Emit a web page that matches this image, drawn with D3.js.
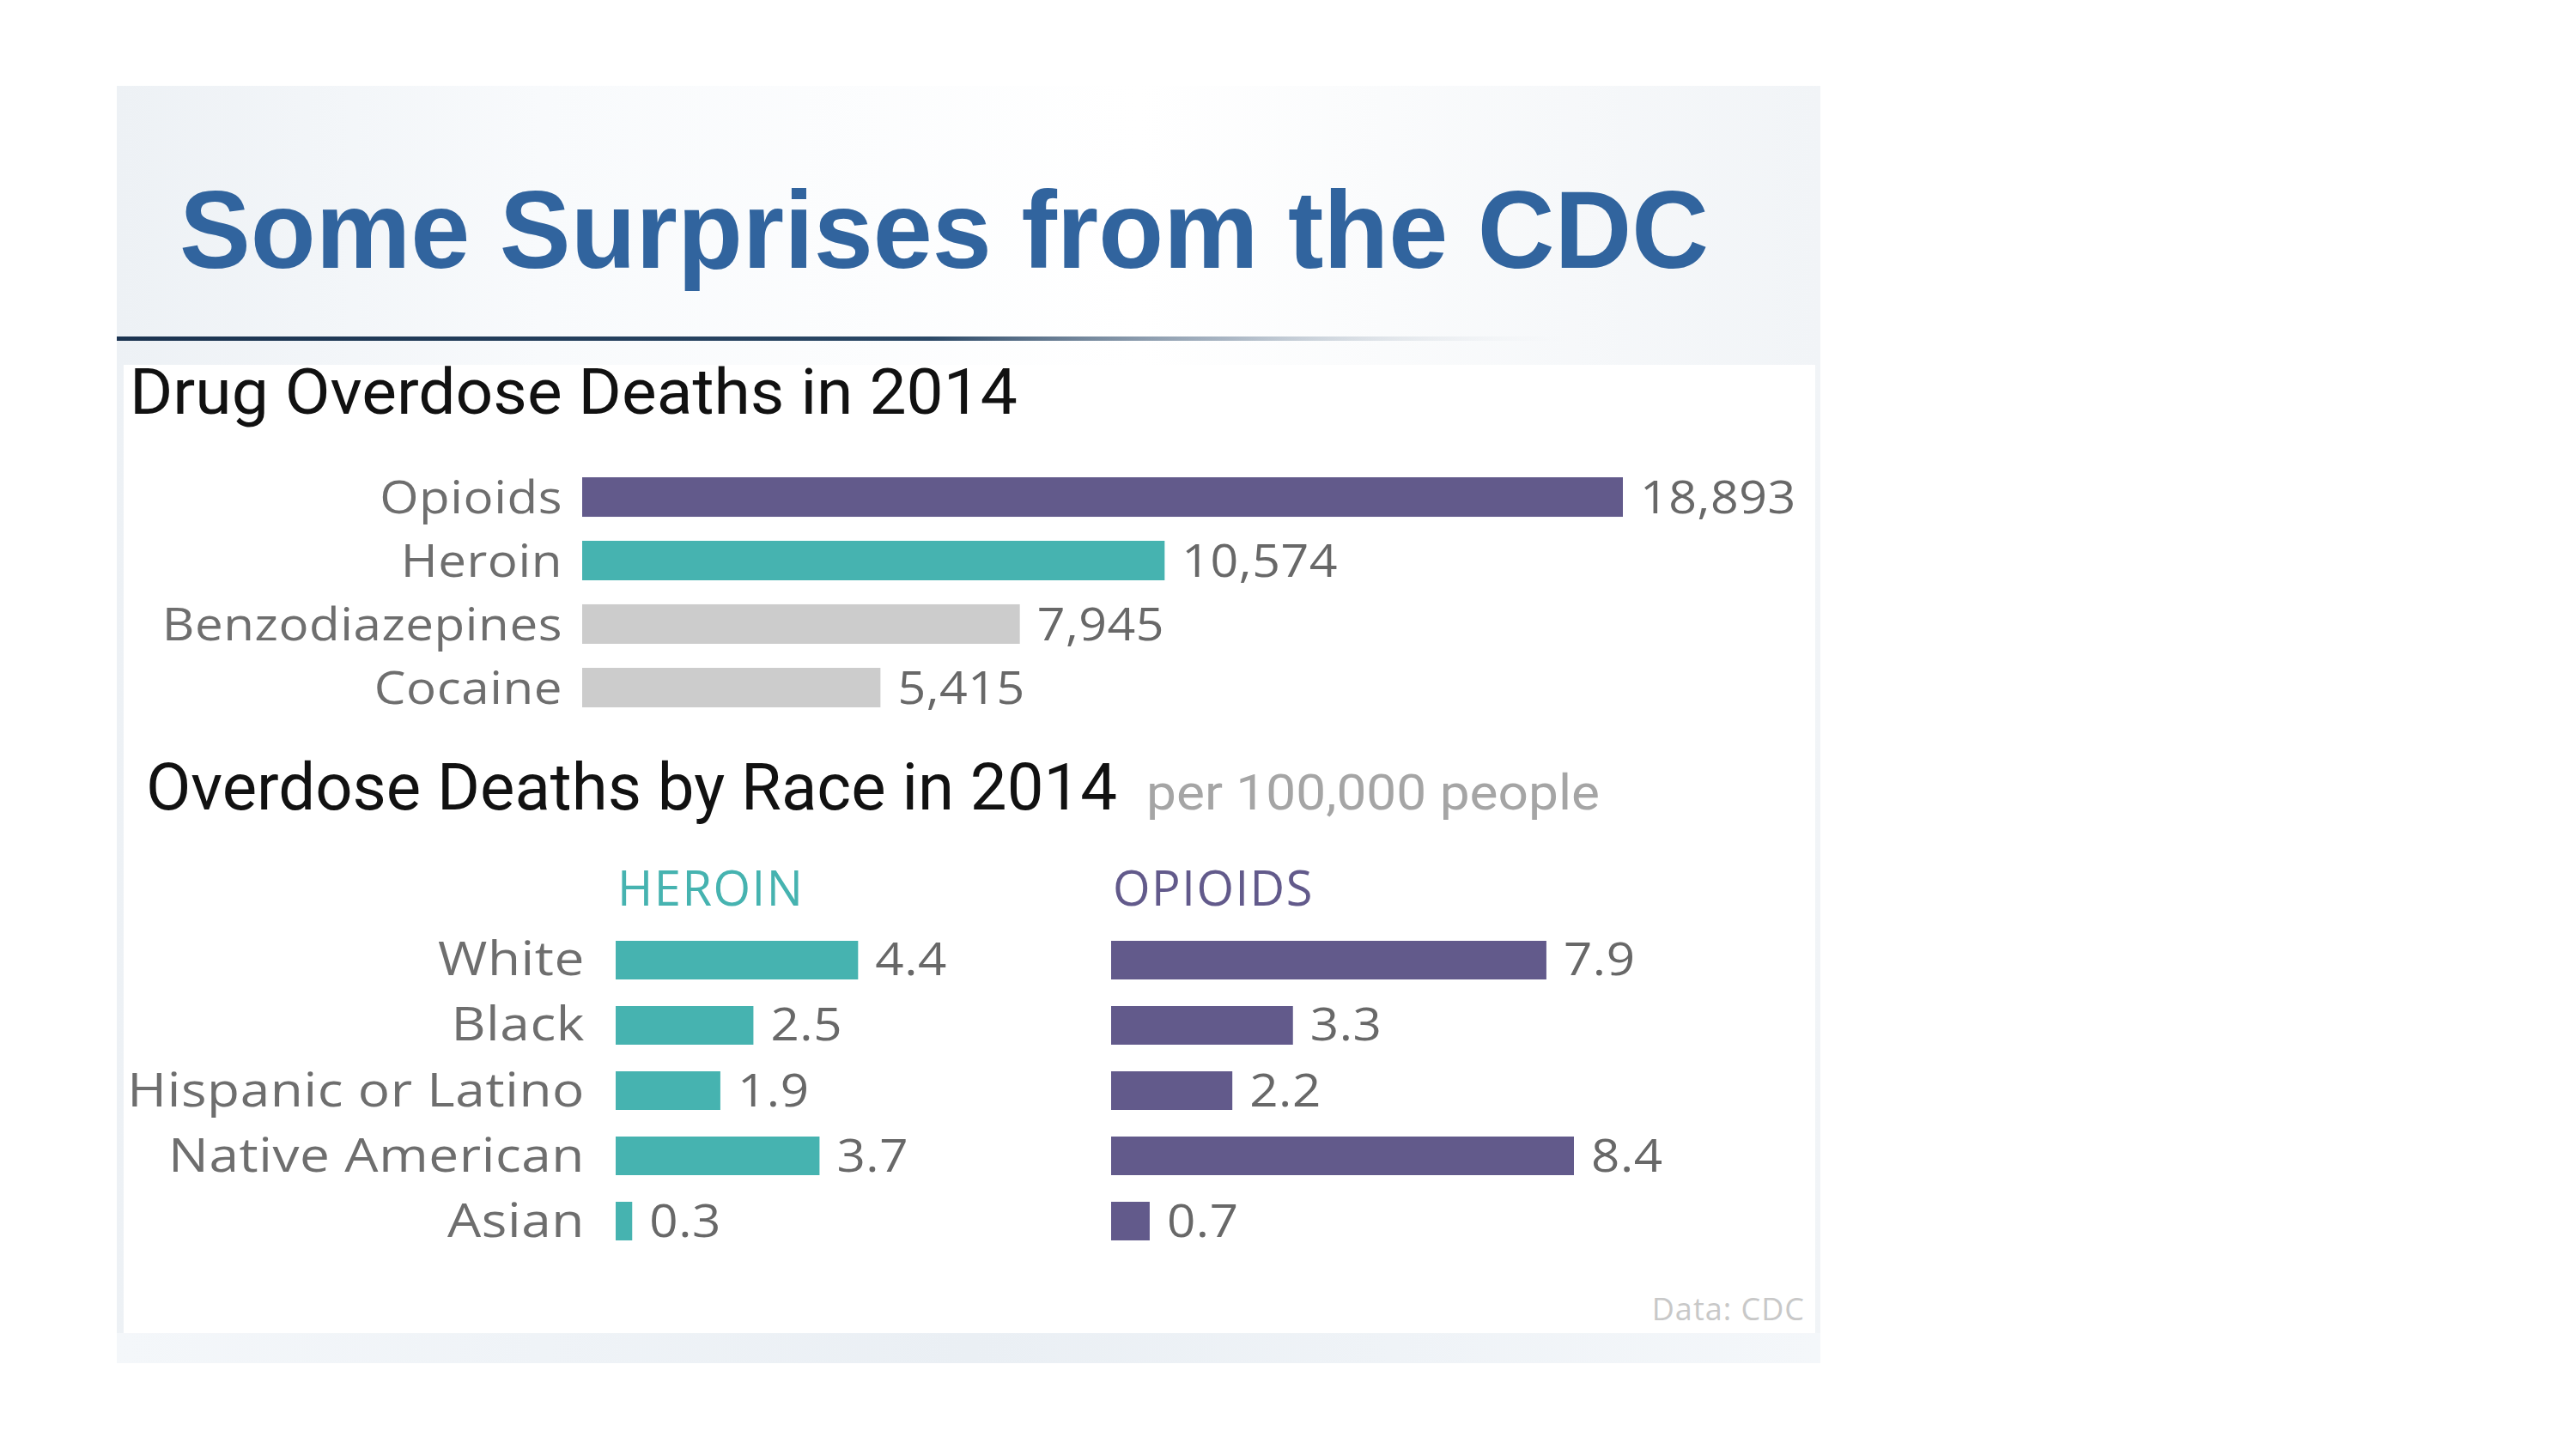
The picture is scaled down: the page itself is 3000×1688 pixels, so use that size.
<!DOCTYPE html>
<html>
<head>
<meta charset="utf-8">
<script src="https://cdn.jsdelivr.net/npm/d3@7.9.0/dist/d3.min.js"></script>
<style>
    html, body { margin: 0; padding: 0; background: #ffffff; }
    svg { display: block; }
    .label { font-family: 'Open Sans', sans-serif; fill: #6e6e6e; }
    .value { font-family: 'Open Sans', sans-serif; fill: #686868; }
</style>
</head>
<body>
<div id="chart"></div>
<script>
// drug overdose deaths, 2014
const drugs = ['Opioids', 'Heroin', 'Benzodiazepines', 'Cocaine'];
const drugDeaths = [18893, 10574, 7945, 5415];

// deaths per 100,000 people by race, 2014
const races = ['White', 'Black', 'Hispanic or Latino', 'Native American', 'Asian'];
const heroinRate = [4.4, 2.5, 1.9, 3.7, 0.3];
const opioidRate = [7.9, 3.3, 2.2, 8.4, 0.7];

const width = 3000;
const height = 1688;

const purple = '#625a8b';
const teal = '#46b3b0';
const grey = '#cccccc';
const drugColor = { Opioids: purple, Heroin: teal };

const svg = d3.select('#chart')
    .append('svg')
    .attr('width', width)
    .attr('height', height);

const defs = svg.append('defs');

function addGradient(id, stops, x2 = '100%', y2 = '0%') {
    const g = defs.append('linearGradient')
        .attr('id', id)
        .attr('x1', '0%').attr('y1', '0%')
        .attr('x2', x2).attr('y2', y2);
    stops.forEach(([offset, color, opacity]) => {
        g.append('stop')
            .attr('offset', offset)
            .attr('stop-color', color)
            .attr('stop-opacity', opacity);
    });
}

// stretched text, the source uses a wide face
function stretch(sel, x, y, sx) {
    return sel.attr('transform', (d, i) => {
        const tx = typeof x === 'function' ? x(d, i) : x;
        const ty = typeof y === 'function' ? y(d, i) : y;
        return `translate(${tx}, ${ty}) scale(${sx}, 1)`;
    });
}

function renderSlide() {
    addGradient('header', [
        ['0%', '#edf1f5', 1],
        ['25%', '#f8fafc', 1],
        ['60%', '#ffffff', 1],
        ['100%', '#f1f4f7', 1],
    ]);
    addGradient('rule', [
        ['0%', '#1b3350', 1],
        ['55%', '#2b4866', 1],
        ['75%', '#6f849b', 0.6],
        ['100%', '#ffffff', 0],
    ]);
    addGradient('strip', [
        ['0%', '#f4f7fa', 1],
        ['50%', '#eaeff4', 1],
        ['100%', '#f4f7fa', 1],
    ]);

    // slide backdrop
    svg.append('rect')
        .attr('x', 136).attr('y', 100)
        .attr('width', 1984).attr('height', 1488)
        .attr('fill', 'url(#header)');

    // white content panel
    svg.append('rect')
        .attr('x', 144).attr('y', 425)
        .attr('width', 1970).attr('height', 1128)
        .attr('fill', '#ffffff');

    // bottom strip
    svg.append('rect')
        .attr('x', 136).attr('y', 1553)
        .attr('width', 1984).attr('height', 35)
        .attr('fill', 'url(#strip)');

    // rule under the title
    svg.append('rect')
        .attr('x', 136).attr('y', 392)
        .attr('width', 1720).attr('height', 5)
        .attr('fill', 'url(#rule)');

    svg.append('text')
        .attr('x', 209)
        .attr('y', 312)
        .attr('textLength', 1781)
        .attr('lengthAdjust', 'spacingAndGlyphs')
        .style('font-family', "'Liberation Sans', Arial, sans-serif")
        .style('font-weight', 700)
        .style('font-size', '128px')
        .style('fill', '#31649e')
        .text('Some Surprises from the CDC');
}

function renderHeading(text, x, y, len, size) {
    return svg.append('text')
        .attr('x', x)
        .attr('y', y)
        .attr('textLength', len)
        .attr('lengthAdjust', 'spacingAndGlyphs')
        .style('font-family', 'Roboto, sans-serif')
        .style('font-size', size + 'px')
        .style('fill', '#111111')
        .text(text);
}

function renderDrugChart() {
    renderHeading('Drug Overdose Deaths in 2014', 151, 482, 1034, 74);

    const data = drugs.map((d, i) => ({ name: d, value: drugDeaths[i] }));

    const y = d3.scaleBand()
        .domain(drugs)
        .range([556, 824])
        .paddingInner(0.378);

    const x = d3.scaleLinear()
        .domain([0, 18893])
        .range([678, 1890]);

    const g = svg.append('g').attr('class', 'drugs');

    g.selectAll('rect')
        .data(data)
        .join('rect')
        .attr('x', x(0))
        .attr('y', (d) => y(d.name))
        .attr('width', (d) => x(d.value) - x(0))
        .attr('height', y.bandwidth())
        .attr('fill', (d) => drugColor[d.name] || grey);

    g.selectAll('.label')
        .data(data)
        .join('text')
        .attr('class', 'label')
        .attr('text-anchor', 'end')
        .style('font-size', '53px')
        .style('letter-spacing', '0.5px')
        .text((d) => d.name)
        .call(stretch, x(0) - 23, (d) => y(d.name) + y.bandwidth() / 2 + 19, 1.1);

    g.selectAll('.value')
        .data(data)
        .join('text')
        .attr('class', 'value')
        .style('font-size', '53px')
        .style('letter-spacing', '0.5px')
        .text((d) => d3.format(',')(d.value))
        .call(stretch, (d) => x(d.value) + 20, (d) => y(d.name) + y.bandwidth() / 2 + 19, 1.08);
}

function renderRaceChart() {
    renderHeading('Overdose Deaths by Race in 2014', 170, 943, 1131, 76);

    svg.append('text')
        .attr('x', 1335)
        .attr('y', 943)
        .attr('textLength', 528)
        .attr('lengthAdjust', 'spacingAndGlyphs')
        .style('font-family', 'Roboto, sans-serif')
        .style('font-size', '58px')
        .style('fill', '#a5a5a5')
        .text('per 100,000 people');

    const y = d3.scaleBand()
        .domain(races)
        .range([1096, 1445])
        .paddingInner(0.408);

    const x = d3.scaleLinear()
        .domain([0, 8.4])
        .range([0, 539]);

    const groups = [
        { key: 'HEROIN', values: heroinRate, color: teal, left: 717 },
        { key: 'OPIOIDS', values: opioidRate, color: purple, left: 1294 },
    ];

    // race labels
    svg.append('g')
        .selectAll('text')
        .data(races)
        .join('text')
        .attr('class', 'label')
        .attr('text-anchor', 'end')
        .style('font-size', '55px')
        .style('letter-spacing', '0.5px')
        .text((d) => d)
        .call(stretch, 681, (d) => y(d) + y.bandwidth() / 2 + 18, 1.13);

    for (const grp of groups) {
        const g = svg.append('g').attr('transform', `translate(${grp.left}, 0)`);
        const data = races.map((r, i) => ({ race: r, value: grp.values[i] }));

        g.append('text')
            .attr('x', 2)
            .attr('y', 1055)
            .style('font-family', "'Open Sans', sans-serif")
            .style('font-size', '56px')
            .style('letter-spacing', '1.5px')
            .style('fill', grp.color)
            .text(grp.key);

        g.selectAll('rect')
            .data(data)
            .join('rect')
            .attr('x', x(0))
            .attr('y', (d) => y(d.race))
            .attr('width', (d) => x(d.value) - x(0))
            .attr('height', y.bandwidth())
            .attr('fill', grp.color);

        g.selectAll('.value')
            .data(data)
            .join('text')
            .attr('class', 'value')
            .style('font-size', '53px')
            .style('letter-spacing', '0.5px')
            .text((d) => d3.format('.1f')(d.value))
            .call(stretch, (d) => x(d.value) + 20, (d) => y(d.race) + y.bandwidth() / 2 + 18, 1.1);
    }

    svg.append('text')
        .attr('x', 2102)
        .attr('y', 1538)
        .attr('text-anchor', 'end')
        .style('font-family', "'Open Sans', sans-serif")
        .style('font-size', '36px')
        .style('letter-spacing', '1px')
        .style('fill', '#c8c8c8')
        .text('Data: CDC');
}

renderSlide();
renderDrugChart();
renderRaceChart();
</script>
</body>
</html>
